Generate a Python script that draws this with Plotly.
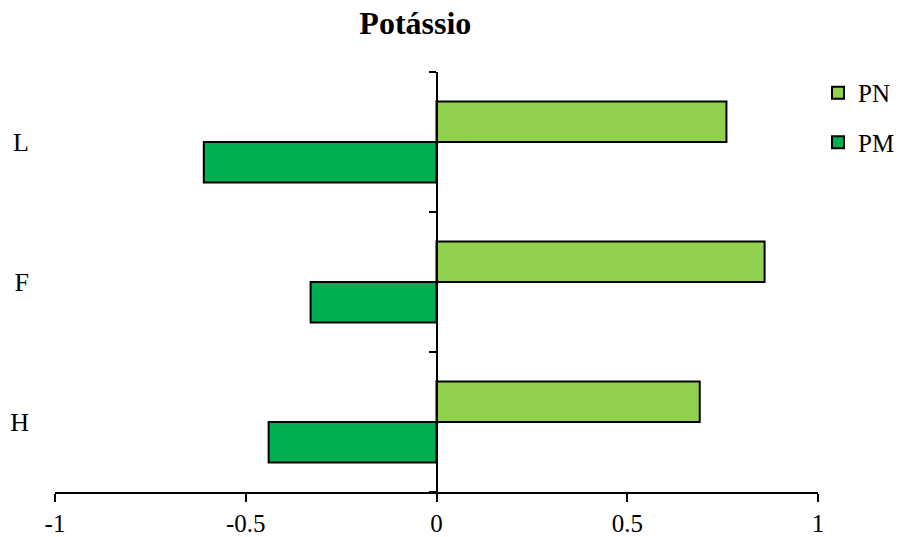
import plotly.graph_objects as go

# Category order from bottom to top
categories = ["H", "F", "L"]
pn_values = [0.69, 0.86, 0.76]
pm_values = [-0.44, -0.33, -0.61]
x_ticks = [-1, -0.5, 0, 0.5, 1]
x_tick_labels = ["-1", "-0.5", "0", "0.5", "1"]

FONT = "Liberation Serif"
positions = list(range(len(categories)))

fig = go.Figure()
fig.add_trace(go.Bar(
    name="PM", y=positions, x=pm_values, orientation="h",
    marker=dict(color="#00B050", line=dict(color="black", width=2)),
    legendgroup="pm", legendrank=2,
))
fig.add_trace(go.Bar(
    name="PN", y=positions, x=pn_values, orientation="h",
    marker=dict(color="#92D050", line=dict(color="black", width=2)),
    legendgroup="pn", legendrank=1,
))
# invisible helper so the zero-line axis (y2) gets drawn
fig.add_trace(go.Scatter(
    x=pm_values, y=positions, yaxis="y2", mode="none",
    showlegend=False, hoverinfo="skip",
))

fig.update_layout(
    width=901, height=537,
    margin=dict(l=55, r=83, t=72, b=45, autoexpand=False),
    paper_bgcolor="white", plot_bgcolor="white",
    barmode="group", bargap=0.42, bargroupgap=0,
    font=dict(family=FONT, size=25, color="black"),
    title=dict(text="<b>Potássio</b>", x=0.461, xanchor="center",
               y=0.958, yanchor="middle",
               font=dict(family=FONT, size=32, color="black")),
    legend=dict(x=1.0, xanchor="left", y=1.005, yanchor="top",
                traceorder="grouped", tracegroupgap=14,
                font=dict(family=FONT, size=25), bgcolor="rgba(0,0,0,0)"),
    xaxis=dict(range=[-1, 1], tickvals=x_ticks, ticktext=x_tick_labels,
               showline=True, linecolor="black", linewidth=2,
               ticks="outside", ticklen=8, tickwidth=2, tickcolor="black",
               showgrid=False, zeroline=False, automargin=False,
               tickfont=dict(family=FONT, size=25)),
    yaxis=dict(range=[-0.5, len(categories) - 0.5], tickvals=positions,
               ticktext=categories, showline=False, ticks="",
               showgrid=False, zeroline=False, ticklabelstandoff=25,
               automargin=False, tickfont=dict(family=FONT, size=26)),
    # value axis through zero with ticks at the category boundaries
    yaxis2=dict(overlaying="y", anchor="free", position=0.5, side="left",
                range=[-0.5, len(categories) - 0.5],
                tickvals=[p - 0.5 for p in positions] + [len(categories) - 0.5],
                showticklabels=False, showline=True, linecolor="black",
                linewidth=2, ticks="outside", ticklen=7, tickwidth=2,
                tickcolor="black", showgrid=False, zeroline=False,
                automargin=False),
)

fig.write_html("out.html")
